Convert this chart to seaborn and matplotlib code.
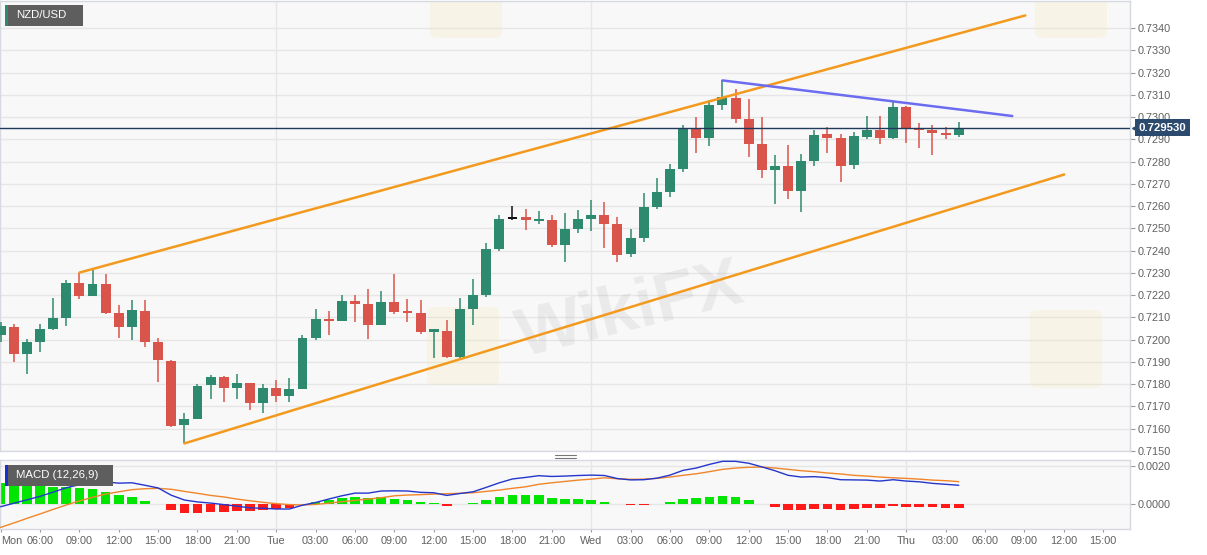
import matplotlib
matplotlib.use("Agg")
import matplotlib.pyplot as plt
from matplotlib.patches import Rectangle, FancyBboxPatch
from matplotlib.lines import Line2D
import matplotlib.transforms as mtransforms
import numpy as np
import pandas as pd
import seaborn as sns

# Hourly candles, hour counted from Monday 00:00
hours = list(range(3, 77))
opens = [0.72020, 0.72057, 0.71937, 0.71990, 0.72046, 0.72097, 0.72256, 0.72195, 0.72251, 0.72120,
         0.72057, 0.72129, 0.71987, 0.71904, 0.71615, 0.71642, 0.71795, 0.71832, 0.71784, 0.71805,
         0.71713, 0.71783, 0.71746, 0.71777, 0.72008, 0.72094, 0.72084, 0.72174, 0.72162, 0.72064,
         0.72168, 0.72129, 0.72120, 0.72034, 0.72037, 0.71922, 0.72139, 0.72202, 0.72406, 0.72545,
         0.72549, 0.72537, 0.72536, 0.72427, 0.72499, 0.72542, 0.72558, 0.72518, 0.72383, 0.72457,
         0.72594, 0.72663, 0.72765, 0.72952, 0.72906, 0.73055, 0.73088, 0.72993, 0.72880, 0.72764,
         0.72778, 0.72668, 0.72801, 0.72922, 0.72907, 0.72783, 0.72910, 0.72943, 0.72907, 0.73045,
         0.72948, 0.72943, 0.72928, 0.72921]
highs = [0.72080, 0.72072, 0.72004, 0.72072, 0.72187, 0.72266, 0.72301, 0.72311, 0.72296, 0.72154,
         0.72180, 0.72177, 0.72009, 0.71907, 0.71672, 0.71802, 0.71840, 0.71835, 0.71847, 0.71806,
         0.71802, 0.71817, 0.71825, 0.72020, 0.72139, 0.72129, 0.72199, 0.72199, 0.72229, 0.72219,
         0.72293, 0.72184, 0.72180, 0.72049, 0.72090, 0.72187, 0.72274, 0.72434, 0.72558, 0.72599,
         0.72588, 0.72578, 0.72558, 0.72570, 0.72581, 0.72629, 0.72618, 0.72551, 0.72498, 0.72659,
         0.72728, 0.72790, 0.72963, 0.73000, 0.73075, 0.73165, 0.73127, 0.73082, 0.73000, 0.72831,
         0.72876, 0.72835, 0.72940, 0.72955, 0.72922, 0.72933, 0.73003, 0.73004, 0.73067, 0.73052,
         0.72973, 0.72963, 0.72955, 0.72976]
lows = [0.71990, 0.71900, 0.71847, 0.71945, 0.72042, 0.72060, 0.72181, 0.72195, 0.72117, 0.72009,
        0.72000, 0.71967, 0.71810, 0.71605, 0.71533, 0.71642, 0.71731, 0.71720, 0.71731, 0.71683,
        0.71668, 0.71720, 0.71720, 0.71777, 0.71997, 0.72022, 0.72084, 0.72079, 0.72004, 0.72064,
        0.72117, 0.72079, 0.72027, 0.71915, 0.71915, 0.71915, 0.72064, 0.72192, 0.72398, 0.72536,
        0.72491, 0.72518, 0.72416, 0.72349, 0.72481, 0.72490, 0.72413, 0.72349, 0.72371, 0.72439,
        0.72588, 0.72641, 0.72753, 0.72838, 0.72870, 0.73030, 0.72973, 0.72820, 0.72728, 0.72608,
        0.72633, 0.72573, 0.72780, 0.72838, 0.72708, 0.72768, 0.72903, 0.72880, 0.72903, 0.72883,
        0.72862, 0.72828, 0.72903, 0.72910]
closes = [0.72060, 0.71937, 0.71990, 0.72046, 0.72097, 0.72256, 0.72195, 0.72251, 0.72120, 0.72057,
          0.72132, 0.71987, 0.71907, 0.71612, 0.71642, 0.71792, 0.71832, 0.71784, 0.71805, 0.71713,
          0.71783, 0.71746, 0.71777, 0.72008, 0.72094, 0.72084, 0.72174, 0.72162, 0.72064, 0.72168,
          0.72124, 0.72121, 0.72034, 0.72049, 0.71922, 0.72139, 0.72202, 0.72406, 0.72543, 0.72545,
          0.72537, 0.72540, 0.72427, 0.72499, 0.72542, 0.72558, 0.72518, 0.72382, 0.72457, 0.72594,
          0.72663, 0.72765, 0.72952, 0.72906, 0.73055, 0.73090, 0.72993, 0.72880, 0.72764, 0.72778,
          0.72668, 0.72801, 0.72918, 0.72907, 0.72780, 0.72913, 0.72943, 0.72907, 0.73045, 0.72948,
          0.72943, 0.72928, 0.72921, 0.72953]
doji_hours = [42]
last_price = 0.729530

# MACD (12,26,9)
macd = [-0.00014, 0.00004, 0.00022, 0.00040, 0.00062, 0.00085, 0.00101, 0.00115, 0.00116, 0.00109,
        0.00111, 0.00098, 0.00084, 0.00046, 0.00021, 0.00011, 0.00005, -0.00003, -0.00011, -0.00020,
        -0.00022, -0.00026, -0.00026, -0.00006, 0.00008, 0.00026, 0.00043, 0.00057, 0.00057, 0.00068,
        0.00069, 0.00068, 0.00061, 0.00059, 0.00045, 0.00055, 0.00064, 0.00087, 0.00111, 0.00131,
        0.00139, 0.00148, 0.00144, 0.00146, 0.00149, 0.00151, 0.00149, 0.00133, 0.00126, 0.00127,
        0.00135, 0.00151, 0.00176, 0.00188, 0.00207, 0.00223, 0.00223, 0.00213, 0.00194, 0.00174,
        0.00150, 0.00141, 0.00143, 0.00138, 0.00127, 0.00126, 0.00125, 0.00120, 0.00127, 0.00120,
        0.00116, 0.00108, 0.00103, 0.00098]
signal = [-0.00122, -0.00099, -0.00075, -0.00052, -0.00028, -0.00005, 0.00016, 0.00035, 0.00052, 0.00064,
          0.00075, 0.00080, 0.00082, 0.00077, 0.00066, 0.00056, 0.00045, 0.00037, 0.00026, 0.00017,
          0.00009, 0.00002, -0.00003, -0.00005, -0.00002, 0.00005, 0.00012, 0.00019, 0.00026, 0.00033,
          0.00043, 0.00047, 0.00049, 0.00052, 0.00054, 0.00056, 0.00059, 0.00066, 0.00073, 0.00082,
          0.00090, 0.00103, 0.00111, 0.00118, 0.00125, 0.00130, 0.00137, 0.00132, 0.00129, 0.00130,
          0.00134, 0.00141, 0.00150, 0.00158, 0.00169, 0.00181, 0.00188, 0.00192, 0.00193, 0.00188,
          0.00181, 0.00174, 0.00169, 0.00162, 0.00157, 0.00150, 0.00146, 0.00141, 0.00137, 0.00134,
          0.00130, 0.00125, 0.00122, 0.00117]
hist = [0.00108, 0.00103, 0.00097, 0.00092, 0.00090, 0.00090, 0.00085, 0.00080, 0.00064, 0.00045,
        0.00036, 0.00018, 0.00002, -0.00031, -0.00045, -0.00045, -0.00040, -0.00040, -0.00037, -0.00037,
        -0.00031, -0.00028, -0.00023, -0.00001, 0.00010, 0.00021, 0.00031, 0.00038, 0.00031, 0.00035,
        0.00026, 0.00021, 0.00012, 0.00007, -0.00009, -0.00001, 0.00005, 0.00021, 0.00038, 0.00049,
        0.00049, 0.00045, 0.00033, 0.00028, 0.00024, 0.00021, 0.00012, 0.00001, -0.00003, -0.00003,
        0.00001, 0.00010, 0.00026, 0.00030, 0.00038, 0.00042, 0.00035, 0.00021, 0.00001, -0.00014,
        -0.00031, -0.00033, -0.00026, -0.00024, -0.00030, -0.00024, -0.00021, -0.00021, -0.00010, -0.00014,
        -0.00014, -0.00017, -0.00019, -0.00019]

# Drawn trend lines (hour, price)
upper_x = [9, 81.07]
upper_y = [0.72301, 0.73457]
lower_x = [17, 84.04]
lower_y = [0.71533, 0.72742]
res_x = [58, 80.08]
res_y = [0.73165, 0.73005]

# Axis ticks
price_ticks = [round(0.7150 + 0.001 * i, 4) for i in range(20)]
macd_ticks = [0.0, 0.002]
time_ticks = list(range(3, 88, 3))
day_names = {3: 'Mon', 24: 'Tue', 48: 'Wed', 72: 'Thu'}
time_labels = [day_names.get(h, f'{h % 24:02d}:00') for h in time_ticks]

sns.set_theme(style='white')
plt.rcParams['font.family'] = ['Liberation Sans', 'DejaVu Sans']

W, H = 1207, 555
fig = plt.figure(figsize=(W / 100, H / 100), dpi=100)
fig.patch.set_facecolor('white')
ax = fig.add_axes([0, 1 - 451 / H, 1130 / W, 450 / H])
axm = fig.add_axes([0, 1 - 529.3 / H, 1130 / W, 69.3 / H])

GREEN = '#2e8a6e'
RED = '#d9544a'
bg = '#f8f8f8'
grid_c = '#e6e6e6'
spine_c = '#d6d9e0'
tick_c = '#606060'

df = pd.DataFrame({'hour': hours, 'open': opens, 'high': highs, 'low': lows, 'close': closes})
colors = np.where(df['close'] >= df['open'], GREEN, RED).astype(object)
colors[df['hour'].isin(doji_hours).values] = '#111111'
body_lo = np.minimum(df['open'], df['close'])
body_h = (df['close'] - df['open']).abs()
min_h = 0.00008
pad = np.clip(min_h - body_h, 0, None) / 2

for a in (ax, axm):
    a.set_facecolor(bg)
    for s in a.spines.values():
        s.set_color(spine_c)
        s.set_linewidth(1)
    for d in (24, 48, 72):
        a.axvline(d, color=grid_c, lw=1, zorder=0)
    a.set_xlim(2.952, 89.05)

for p in price_ticks:
    ax.axhline(p, color=grid_c, lw=1, zorder=0)

ax.vlines(df['hour'], df['low'], df['high'], colors=list(colors), lw=1.1, zorder=3)
ax.bar(df['hour'], body_h + 2 * pad, bottom=body_lo - pad, width=0.76,
       color=list(colors), linewidth=0, zorder=4)

sns.lineplot(x=upper_x, y=upper_y, ax=ax, color='#f39a1e', lw=1.8, zorder=5)
sns.lineplot(x=lower_x, y=lower_y, ax=ax, color='#f39a1e', lw=1.8, zorder=5)
sns.lineplot(x=res_x, y=res_y, ax=ax, color='#6c6cf0', lw=1.8, zorder=5)
ax.axhline(last_price, color='#1f3a5a', lw=1, zorder=6)

ax.set_ylim(0.71499, 0.73522)
ax.set_yticks(price_ticks)
ax.set_yticklabels([f'{p:.4f}' for p in price_ticks])
ax.yaxis.tick_right()
ax.tick_params(axis='y', right=True, left=False, length=3.6, width=0.8, color='#999999',
               pad=2, labelsize=7.8, labelcolor=tick_c)
ax.set_xticks([])
ax.set_xlabel('')
ax.set_ylabel('')

# price label on the axis
trans = mtransforms.blended_transform_factory(ax.transAxes, ax.transData)
ax.plot([1.004], [last_price], marker='<', ms=4, color='#2b4a6e', transform=trans, clip_on=False, zorder=9)
ax.text(1.0075, last_price, f'{last_price:.6f}', transform=trans, ha='left', va='center',
        fontsize=8.2, fontweight='bold', color='white', zorder=10, clip_on=False,
        bbox=dict(boxstyle='square,pad=0.3', fc='#2b4a6e', ec='none'))

# MACD panel
hist_colors = ['#00e600' if v >= 0 else '#ff1a1a' for v in hist]
axm.axhline(0, color=grid_c, lw=1, zorder=0)
axm.axhline(0.002, color=grid_c, lw=1, zorder=0)
axm.bar(hours, hist, width=0.74, color=hist_colors, linewidth=0, zorder=2)
sns.lineplot(x=hours, y=signal, ax=axm, color='#f0852a', lw=1, zorder=3)
sns.lineplot(x=hours, y=macd, ax=axm, color='#2436cc', lw=1, zorder=4)
axm.set_ylim(-0.00132, 0.0023)
axm.set_yticks(macd_ticks)
axm.set_yticklabels([f'{v:.4f}' for v in macd_ticks])
axm.yaxis.tick_right()
axm.tick_params(axis='y', right=True, left=False, length=3.6, width=0.8, color='#999999',
                pad=2, labelsize=7.8, labelcolor=tick_c)
axm.set_xticks(time_ticks)
axm.set_xticklabels(time_labels)
axm.tick_params(axis='x', bottom=True, length=2.5, width=0.8, color='#999999', pad=2.5,
                labelsize=7.8, labelcolor=tick_c)
axm.get_xticklabels()[0].set_horizontalalignment('left')
axm.set_xlabel('')
axm.set_ylabel('')

# faint watermark
ax.text(0.558, 0.31, 'WikiFX', transform=ax.transAxes, fontsize=50, fontweight='bold',
        color='#7a7a7a', alpha=0.11, rotation=14, ha='center', va='center', zorder=1)
for (x0, y0) in [(427, 307), (1030, 310), (430, -40), (1035, -40)]:
    ax.add_patch(FancyBboxPatch(((x0) / 1130, (451 - y0 - 78) / 450), 72 / 1130, 78 / 450,
                                boxstyle='round,pad=0,rounding_size=0.01', transform=ax.transAxes,
                                fc='#f3e2a6', ec='none', alpha=0.2, zorder=1, clip_on=True))

# panel labels
def label_box(x0, y0, w, h, strip, text):
    fig.add_artist(Rectangle((x0 / W, 1 - (y0 + h) / H), w / W, h / H, transform=fig.transFigure,
                             fc='#5e5e5e', ec='none', zorder=20))
    fig.add_artist(Rectangle((x0 / W, 1 - (y0 + h) / H), 2.5 / W, h / H, transform=fig.transFigure,
                             fc=strip, ec='none', zorder=21))
    fig.text((x0 + 11) / W, 1 - (y0 + h / 2) / H, text, ha='left', va='center', color='white',
             fontsize=8.2, zorder=22)

label_box(5, 5, 78, 21, '#2e8a6e', 'NZD/USD')
label_box(5, 465, 108, 20.5, '#1a2fd0', 'MACD (12,26,9)')

# pane separator handle
for yy in (455, 458):
    fig.add_artist(Line2D([555 / W, 576 / W], [1 - yy / H] * 2, color='#777777', lw=0.8,
                          transform=fig.transFigure))

fig.savefig('out.png', dpi=100)
